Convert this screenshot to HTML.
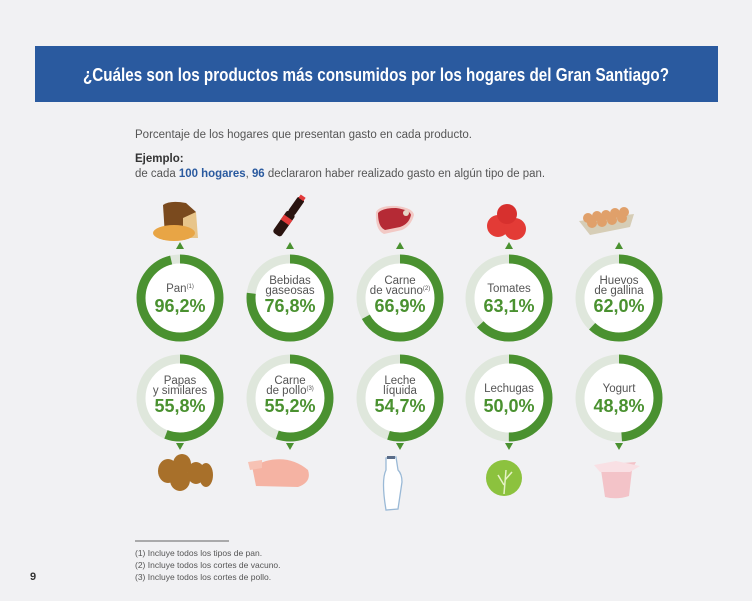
<!DOCTYPE html>
<html><head><meta charset="utf-8"><style>
html,body{margin:0;padding:0;background:#f1f1f3;}
svg{display:block;font-family:"Liberation Sans",sans-serif;}
</style></head><body>
<svg width="752" height="601" viewBox="0 0 752 601" xmlns="http://www.w3.org/2000/svg">
<rect width="752" height="601" fill="#f1f1f3"/>
<rect x="35" y="46" width="683" height="56" fill="#2a5a9f"/>
<text x="376" y="81" fill="#fff" font-size="18" font-weight="bold" text-anchor="middle" textLength="586" lengthAdjust="spacingAndGlyphs">¿Cuáles son los productos más consumidos por los hogares del Gran Santiago?</text>
<text x="135" y="138" fill="#555" font-size="11.5" textLength="337" lengthAdjust="spacingAndGlyphs">Porcentaje de los hogares que presentan gasto en cada producto.</text>
<text x="135" y="162" fill="#333" font-size="11.5" font-weight="bold">Ejemplo:</text>
<text x="135" y="177" fill="#555" font-size="11.5" textLength="410" lengthAdjust="spacingAndGlyphs">de cada <tspan fill="#2a5a9f" font-weight="bold">100 hogares</tspan>, <tspan fill="#2a5a9f" font-weight="bold">96</tspan> declararon haber realizado gasto en algún tipo de pan.</text>

<g id="rings" font-size="11.5" text-anchor="middle">
<g transform="translate(180,298)">
<circle r="39" fill="#fff" stroke="#dfe7dc" stroke-width="9"/>
<circle r="39" fill="none" stroke="#4a9130" stroke-width="9" stroke-dasharray="235.7 300" transform="rotate(-90)"/>
<text y="-6" fill="#555">Pan<tspan font-size="6" dy="-4">(1)</tspan></text>
<text y="14" fill="#4a9130" font-size="18" font-weight="bold">96,2%</text></g>
<g transform="translate(290,298)">
<circle r="39" fill="#fff" stroke="#dfe7dc" stroke-width="9"/>
<circle r="39" fill="none" stroke="#4a9130" stroke-width="9" stroke-dasharray="188.2 300" transform="rotate(-90)"/>
<text y="-14" fill="#555">Bebidas</text><text y="-4" fill="#555">gaseosas</text>
<text y="14" fill="#4a9130" font-size="18" font-weight="bold">76,8%</text></g>
<g transform="translate(400,298)">
<circle r="39" fill="#fff" stroke="#dfe7dc" stroke-width="9"/>
<circle r="39" fill="none" stroke="#4a9130" stroke-width="9" stroke-dasharray="163.9 300" transform="rotate(-90)"/>
<text y="-14" fill="#555">Carne</text><text y="-4" fill="#555">de vacuno<tspan font-size="6" dy="-4">(2)</tspan></text>
<text y="14" fill="#4a9130" font-size="18" font-weight="bold">66,9%</text></g>
<g transform="translate(509,298)">
<circle r="39" fill="#fff" stroke="#dfe7dc" stroke-width="9"/>
<circle r="39" fill="none" stroke="#4a9130" stroke-width="9" stroke-dasharray="154.6 300" transform="rotate(-90)"/>
<text y="-6" fill="#555">Tomates</text>
<text y="14" fill="#4a9130" font-size="18" font-weight="bold">63,1%</text></g>
<g transform="translate(619,298)">
<circle r="39" fill="#fff" stroke="#dfe7dc" stroke-width="9"/>
<circle r="39" fill="none" stroke="#4a9130" stroke-width="9" stroke-dasharray="151.9 300" transform="rotate(-90)"/>
<text y="-14" fill="#555">Huevos</text><text y="-4" fill="#555">de gallina</text>
<text y="14" fill="#4a9130" font-size="18" font-weight="bold">62,0%</text></g>
<g transform="translate(180,398)">
<circle r="39" fill="#fff" stroke="#dfe7dc" stroke-width="9"/>
<circle r="39" fill="none" stroke="#4a9130" stroke-width="9" stroke-dasharray="136.7 300" transform="rotate(-90)"/>
<text y="-14" fill="#555">Papas</text><text y="-4" fill="#555">y similares</text>
<text y="14" fill="#4a9130" font-size="18" font-weight="bold">55,8%</text></g>
<g transform="translate(290,398)">
<circle r="39" fill="#fff" stroke="#dfe7dc" stroke-width="9"/>
<circle r="39" fill="none" stroke="#4a9130" stroke-width="9" stroke-dasharray="135.3 300" transform="rotate(-90)"/>
<text y="-14" fill="#555">Carne</text><text y="-4" fill="#555">de pollo<tspan font-size="6" dy="-4">(3)</tspan></text>
<text y="14" fill="#4a9130" font-size="18" font-weight="bold">55,2%</text></g>
<g transform="translate(400,398)">
<circle r="39" fill="#fff" stroke="#dfe7dc" stroke-width="9"/>
<circle r="39" fill="none" stroke="#4a9130" stroke-width="9" stroke-dasharray="134.0 300" transform="rotate(-90)"/>
<text y="-14" fill="#555">Leche</text><text y="-4" fill="#555">líquida</text>
<text y="14" fill="#4a9130" font-size="18" font-weight="bold">54,7%</text></g>
<g transform="translate(509,398)">
<circle r="39" fill="#fff" stroke="#dfe7dc" stroke-width="9"/>
<circle r="39" fill="none" stroke="#4a9130" stroke-width="9" stroke-dasharray="122.5 300" transform="rotate(-90)"/>
<text y="-6" fill="#555">Lechugas</text>
<text y="14" fill="#4a9130" font-size="18" font-weight="bold">50,0%</text></g>
<g transform="translate(619,398)">
<circle r="39" fill="#fff" stroke="#dfe7dc" stroke-width="9"/>
<circle r="39" fill="none" stroke="#4a9130" stroke-width="9" stroke-dasharray="119.6 300" transform="rotate(-90)"/>
<text y="-6" fill="#555">Yogurt</text>
<text y="14" fill="#4a9130" font-size="18" font-weight="bold">48,8%</text></g>
</g>

<g fill="#4a9130">
<polygon points="176,249 184,249 180,242"/><polygon points="286,249 294,249 290,242"/><polygon points="396,249 404,249 400,242"/><polygon points="505,249 513,249 509,242"/><polygon points="615,249 623,249 619,242"/>
<polygon points="176,443 184,443 180,450"/><polygon points="286,443 294,443 290,450"/><polygon points="396,443 404,443 400,450"/><polygon points="505,443 513,443 509,450"/><polygon points="615,443 623,443 619,450"/>
</g>

<path d="M163,205 Q170,200 186,203 L196,212 L196,238 L165,236 Z" fill="#7a4a1e"/>
<path d="M183,218 L196,212 L198,238 L183,238 Z" fill="#e8c58a"/>
<ellipse cx="174" cy="233" rx="21" ry="8" fill="#e8a545"/>
<g transform="rotate(35 290 215)"><rect x="285" y="212" width="10" height="27" rx="3" fill="#2a1410"/><rect x="286" y="195" width="8" height="18" rx="2" fill="#2a1410"/><rect x="285" y="218" width="10" height="6" fill="#e23a3a"/><rect x="287" y="192" width="6" height="4" fill="#e23a3a"/></g>
<path d="M376,212 Q380,205 397,206 Q413,208 414,215 Q411,226 402,230 L384,234 Q375,230 376,212 Z" fill="#f2c9c5"/>
<path d="M378,213 Q382,208 396,208 Q410,210 411,215 Q409,224 400,227 L385,230 Q378,227 378,213 Z" fill="#b52a35"/>
<circle cx="406" cy="213" r="3" fill="#e6d7c8"/>
<circle cx="498" cy="226" r="11" fill="#e33b36"/><circle cx="515" cy="229" r="11" fill="#e33b36"/><circle cx="507" cy="214" r="10" fill="#d7302e"/>
<path d="M579,221 L634,214 L630,227 L590,235 Z" fill="#d6cdb6"/>
<g fill="#e0a06a"><circle cx="588" cy="218" r="5"/><circle cx="597" cy="216" r="5"/><circle cx="606" cy="215" r="5"/><circle cx="615" cy="213" r="5"/><circle cx="624" cy="212" r="5"/><circle cx="592" cy="223" r="5"/><circle cx="602" cy="222" r="5"/><circle cx="612" cy="220" r="5"/><circle cx="622" cy="218" r="5"/></g>

<g fill="#a8702a"><ellipse cx="168" cy="471" rx="10" ry="12"/><ellipse cx="182" cy="464" rx="9" ry="10"/><ellipse cx="180" cy="480" rx="10" ry="11"/><ellipse cx="196" cy="473" rx="9" ry="11"/><ellipse cx="206" cy="475" rx="7" ry="12"/></g>
<path d="M252,466 L266,461 Q290,455 308,470 Q312,482 298,487 L256,486 Z" fill="#f5b3a3"/>
<path d="M248,462 L262,460 L262,468 L250,470 Z" fill="#f7c2b4"/>
<path d="M386,458 L396,457 L398,470 Q402,474 402,482 L398,509 L386,510 Q381,480 386,470 Z" fill="#fff" stroke="#9ab9d6" stroke-width="1.3"/>
<rect x="387" y="456" width="8" height="3" fill="#5a6c88"/>
<circle cx="504" cy="478" r="18" fill="#8cc23e"/><path d="M504,494 L506,470 M504,485 L498,475 M505,480 L512,472" stroke="#e6f2c6" stroke-width="1.5" fill="none"/>
<path d="M596,465 L636,462 L632,470 L629,496 Q617,500 605,497 L601,470 Z" fill="#f3c3c8"/>
<path d="M594,465 L616,461 L640,466 L630,472 L600,472 Z" fill="#f9e0e4"/>

<line x1="135" y1="541" x2="229" y2="541" stroke="#333" stroke-width="0.8"/>
<g font-size="8.5" fill="#555"><text x="135" y="556">(1)  Incluye todos los tipos de pan.</text><text x="135" y="568">(2)  Incluye todos los cortes de vacuno.</text><text x="135" y="580">(3)  Incluye todos los cortes de pollo.</text></g>
<text x="30" y="580" font-size="11" font-weight="bold" fill="#333">9</text>
</svg>
</body></html>
